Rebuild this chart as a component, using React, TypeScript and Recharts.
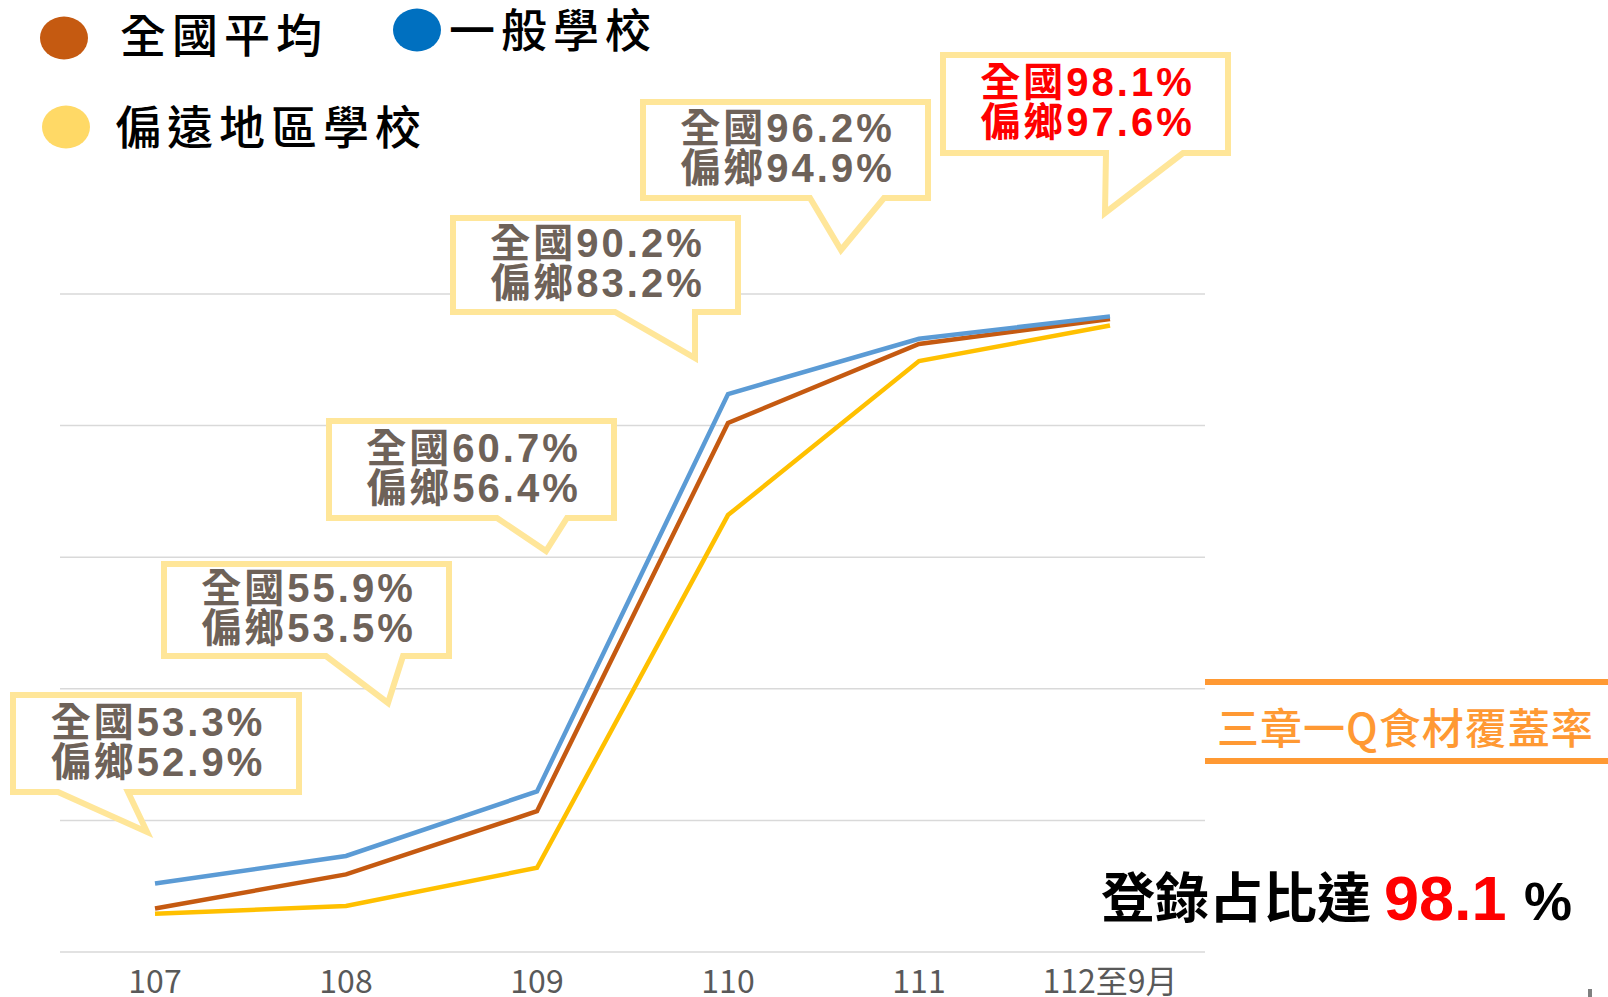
import React from "react";
import { LineChart, Line, XAxis, YAxis, CartesianGrid, Legend } from "recharts";

// 學年度 (x-axis categories)
const years = ["107", "108", "109", "110", "111", "112至9月"];
// 三章一Q食材覆蓋率 (%)
const nationalAvg = [53.3, 55.9, 60.7, 90.2, 96.2, 98.1];
const generalSchools = [55.2, 57.3, 62.2, 92.4, 96.6, 98.3];
const remoteSchools = [52.9, 53.5, 56.4, 83.2, 94.9, 97.6];
const yTicks = [50, 60, 70, 80, 90, 100];

const seriesNames = { national: "全國平均", general: "一般學校", remote: "偏遠地區學校" };
const lineColors = { national: "#C55A11", general: "#5B9BD5", remote: "#FFC000" };
const legendColors = { national: "#C55A11", general: "#0070C0", remote: "#FFD966" };

const chartData = years.map((year, i) => ({
  year,
  national: nationalAvg[i],
  general: generalSchools[i],
  remote: remoteSchools[i],
}));

// layout of the legend items (page pixels)
const legendLayout = [
  { key: "national", cx: 64, cy: 38, tx: 120, ty: 52 },
  { key: "general", cx: 417, cy: 30, tx: 449, ty: 47 },
  { key: "remote", cx: 66, cy: 127, tx: 115, ty: 144 },
];

// speech-bubble boxes, one per year (outer edges + tail)
const calloutLayout = [
  { x1: 10, y1: 692, x2: 302, y2: 795, tl: 58, tr: 128, tipX: 147, tipY: 835 },
  { x1: 161, y1: 561, x2: 452, y2: 659, tl: 326, tr: 403, tipX: 388, tipY: 706 },
  { x1: 326, y1: 418, x2: 617, y2: 521, tl: 497, tr: 567, tipX: 546, tipY: 554 },
  { x1: 450, y1: 215, x2: 741, y2: 315, tl: 615, tr: 695, tipX: 695, tipY: 361 },
  { x1: 640, y1: 99, x2: 931, y2: 201, tl: 810, tr: 884, tipX: 841, tipY: 253 },
  { x1: 940, y1: 52, x2: 1231, y2: 156, tl: 1106, tr: 1183, tipX: 1105, tipY: 216 },
];

const CJK = '"Noto Sans CJK TC", sans-serif';
const MIXED = '"Liberation Sans", "Noto Sans CJK TC", sans-serif';

const LegendBlock = () => (
  <svg width={700} height={170}>
    {legendLayout.map((item) => (
      <g key={item.key}>
        <ellipse cx={item.cx} cy={item.cy} rx={24} ry={21.5} fill={legendColors[item.key]} />
        <text
          x={item.tx}
          y={item.ty}
          fontFamily={CJK}
          fontSize={46}
          fontWeight={500}
          letterSpacing={6}
          fill="#000"
        >
          {seriesNames[item.key]}
        </text>
      </g>
    ))}
  </svg>
);

const Callouts = () => (
  <>
    {calloutLayout.map((c, i) => {
      const h = 3;
      const d = `M${c.x1 + h},${c.y1 + h} H${c.x2 - h} V${c.y2 - h} H${c.tr} L${c.tipX},${c.tipY - h} L${c.tl},${c.y2 - h} H${c.x1 + h} Z`;
      const cx = (c.x1 + c.x2) / 2;
      const cy = (c.y1 + c.y2) / 2;
      const color = i === years.length - 1 ? "#FF0000" : "#6E6259";
      const textProps = {
        x: cx + 2,
        textAnchor: "middle" as const,
        fontFamily: MIXED,
        fontSize: 40,
        fontWeight: 700,
        letterSpacing: 3,
        fill: color,
      };
      return (
        <g key={years[i]}>
          <path d={d} fill="#fff" stroke="#FFE699" strokeWidth={6} strokeLinejoin="miter" />
          <text {...textProps} y={cy - 8}>
            全國{nationalAvg[i].toFixed(1)}%
          </text>
          <text {...textProps} y={cy + 32}>
            偏鄉{remoteSchools[i].toFixed(1)}%
          </text>
        </g>
      );
    })}
  </>
);

export default function App() {
  return (
    <div style={{ position: "absolute", left: 0, top: 0, width: 1608, height: 997, background: "#fff" }}>
      <LineChart
        width={1608}
        height={997}
        data={chartData}
        margin={{ top: 294, right: 403, bottom: 0, left: 60 }}
      >
        <CartesianGrid vertical={false} stroke="#D9D9D9" strokeWidth={1.5} />
        <XAxis
          dataKey="year"
          height={45}
          axisLine={false}
          tickLine={false}
          tickMargin={12}
          padding={{ left: 95, right: 95 }}
          tick={{ fontSize: 32, fill: "#595959", fontFamily: CJK }}
          interval={0}
        />
        <YAxis hide domain={[50, 100]} ticks={yTicks} />
        <Legend
          layout="vertical"
          align="center"
          verticalAlign="middle"
          wrapperStyle={{ left: 0, top: 0, width: 700, height: 170 }}
          content={() => <LegendBlock />}
        />
        <Line
          type="linear"
          dataKey="remote"
          name={seriesNames.remote}
          stroke={lineColors.remote}
          strokeWidth={4.5}
          dot={false}
          isAnimationActive={false}
        />
        <Line
          type="linear"
          dataKey="national"
          name={seriesNames.national}
          stroke={lineColors.national}
          strokeWidth={4.5}
          dot={false}
          isAnimationActive={false}
        />
        <Line
          type="linear"
          dataKey="general"
          name={seriesNames.general}
          stroke={lineColors.general}
          strokeWidth={4.5}
          dot={false}
          isAnimationActive={false}
        />
      </LineChart>

      <svg
        width={1608}
        height={997}
        style={{ position: "absolute", left: 0, top: 0, pointerEvents: "none" }}
      >
        <Callouts />

        {/* title block on the right */}
        <line x1={1205} y1={682} x2={1608} y2={682} stroke="#FF9933" strokeWidth={6} />
        <line x1={1205} y1={761} x2={1608} y2={761} stroke="#FF9933" strokeWidth={6} />
        <text
          x={1217}
          y={744}
          fontFamily={CJK}
          fontSize={42}
          fontWeight={500}
          letterSpacing={1}
          fill="#FF9933"
        >
          三章一Q食材覆蓋率
        </text>

        <text x={1101} y={918} fontFamily={CJK} fontSize={54} fontWeight={700} fill="#000">
          登錄占比達
        </text>
        <text x={1384} y={920} fontFamily={MIXED} fontSize={63} fontWeight={700} fill="#FF0000">
          {nationalAvg[nationalAvg.length - 1].toFixed(1)}
        </text>
        <text x={1524} y={920} fontFamily={MIXED} fontSize={54} fontWeight={700} fill="#000">
          %
        </text>
        <rect x={1588} y={989} width={4} height={8} fill="#7F7F7F" />
      </svg>
    </div>
  );
}
